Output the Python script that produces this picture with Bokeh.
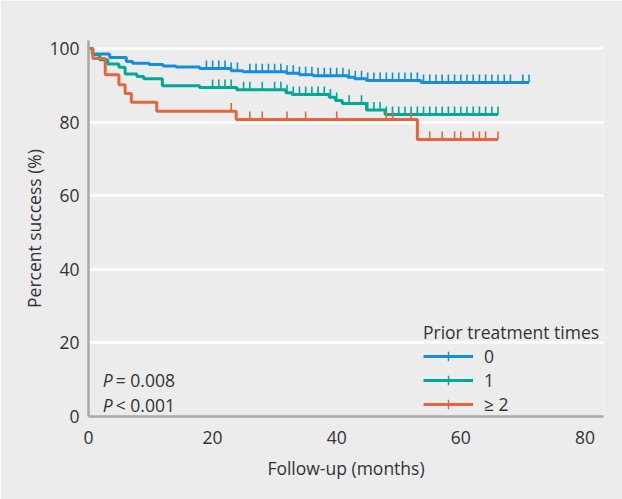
import numpy as np
from bokeh.plotting import figure
from bokeh.models import Range1d, Legend, LegendItem, Label, FixedTicker
from bokeh.embed import file_html
from bokeh.resources import INLINE

# ---- data ----
groups = ["0", "1", "\u2265 2"]

t0 = [0, 0.6, 3.4, 6.1, 7.1, 9.8, 12.0, 14.1, 17.9, 23.0, 24.9, 31.9, 34.0, 36.2, 41.8, 42.9, 44.8, 53.6]
s0 = [100, 98.5, 97.6, 96.5, 96.0, 95.7, 95.3, 95.0, 94.6, 94.0, 93.7, 93.3, 92.9, 92.6, 92.2, 91.8, 91.3, 90.8]
end0 = 71
c0 = [19, 20, 21, 22, 23, 24, 26, 27, 28, 29, 30, 31, 32, 33, 34, 35, 36, 37, 38, 39, 40, 41, 42,
      43, 44, 45, 46, 47, 48, 49, 50, 51, 52, 53, 54, 55, 56, 57, 58, 59, 60, 61, 62, 63, 64, 65,
      66, 67, 68, 70, 71]

t1 = [0, 0.7, 1.8, 3.1, 4.9, 5.9, 7.8, 8.9, 11.9, 17.9, 23.9, 31.8, 32.8, 38.8, 39.8, 40.9, 44.8, 47.8]
s1 = [100, 98.3, 97.0, 95.8, 94.9, 93.1, 92.4, 91.8, 89.9, 89.4, 88.8, 88.0, 87.5, 86.8, 85.9, 85.1, 83.3, 82.1]
end1 = 66
c1 = [20, 21, 22, 23, 25, 26, 28, 30, 31, 32, 33, 34, 35, 36, 37, 38, 39, 40, 42, 44, 45, 46, 47,
      48, 49, 50, 51, 52, 53, 54, 55, 56, 57, 58, 59, 60, 61, 62, 63, 64, 65, 66]

t2 = [0, 0.7, 2.7, 4.9, 5.9, 6.9, 11.0, 23.8, 53.0]
s2 = [100, 97.3, 92.9, 90.2, 87.8, 85.4, 83.0, 80.7, 75.3]
end2 = 66
c2 = [23, 26, 28, 32, 35, 40, 48, 49, 52, 55, 57, 59, 60, 62, 63, 64, 66]

x_ticks = [0, 20, 40, 60, 80]
y_ticks = [0, 20, 40, 60, 80, 100]
p_texts = [("P", "= 0.008"), ("P", "< 0.001")]

colors = ["#168ddb", "#00a896", "#e4663c"]
BG = "#ebeceb"
TXT = "#333333"
FONT = "Open Sans"
FS = "17.5px"


def step_xy(t, s, end):
    xs, ys = [], []
    for i in range(len(t)):
        xs.append(t[i]); ys.append(s[i])
        nxt = t[i + 1] if i + 1 < len(t) else end
        xs.append(nxt); ys.append(s[i])
    return xs, ys


def surv_at(t, s, x):
    idx = np.searchsorted(np.array(t), x, side="right") - 1
    return s[max(idx, 0)]


p = figure(width=622, height=499, output_backend="svg", toolbar_location=None,
           x_range=Range1d(0, 83), y_range=Range1d(0, 102.2),
           min_border_left=88, min_border_right=19, min_border_top=40, min_border_bottom=83)
p.background_fill_color = BG
p.border_fill_color = BG
p.outline_line_color = None

p.xgrid.grid_line_color = None
p.ygrid.grid_line_color = "white"
p.ygrid.grid_line_width = 2.5
p.ygrid.ticker = FixedTicker(ticks=[20, 40, 60, 80, 100])

p.xaxis.ticker = FixedTicker(ticks=x_ticks)
p.yaxis.ticker = FixedTicker(ticks=y_ticks)
for ax in (p.xaxis, p.yaxis):
    ax.axis_line_color = "#a8a8a8"
    ax.axis_line_width = 2.5
    ax.major_tick_line_color = None
    ax.minor_tick_line_color = None
    ax.major_label_text_font = FONT
    ax.major_label_text_font_size = FS
    ax.major_label_text_color = TXT
    ax.axis_label_text_font = FONT
    ax.axis_label_text_font_size = FS
    ax.axis_label_text_color = TXT
    ax.axis_label_text_font_style = "normal"
p.xaxis.axis_label = "Follow-up (months)"
p.yaxis.axis_label = "Percent success (%)"
p.xaxis.major_label_standoff = 8
p.yaxis.major_label_standoff = 3
p.xaxis.axis_label_standoff = 9
p.yaxis.axis_label_standoff = 0

items = []
for (t, s, end, c, col, name) in [(t0, s0, end0, c0, colors[0], groups[0]),
                                  (t1, s1, end1, c1, colors[1], groups[1]),
                                  (t2, s2, end2, c2, colors[2], groups[2])]:
    xs, ys = step_xy(t, s, end)
    r_line = p.line(xs, ys, line_color=col, line_width=3)
    cy = [surv_at(t, s, x) + 1.1 for x in c]
    p.scatter(c, cy, marker="dash", angle=np.pi / 2, size=8,
              line_color=col, line_width=1.6, fill_color=None)
    # legend-only tick glyph (single point placed outside the visible range)
    r_leg = p.scatter(x=[-50], y=[-50], marker="cross", size=9, line_color=col, line_width=1.4)
    items.append(LegendItem(label=name, renderers=[r_line, r_leg]))

legend = Legend(items=items, location=(335, 0), title="Prior treatment times",
                background_fill_alpha=0, border_line_color=None,
                glyph_width=50, glyph_height=24, label_height=24, spacing=0, padding=0, margin=0,
                label_standoff=11, label_text_font=FONT, label_text_font_size=FS,
                label_text_color=TXT, title_text_font=FONT, title_text_font_size=FS,
                title_text_font_style="normal", title_text_color=TXT, title_standoff=0)
p.add_layout(legend)

for i, (pp, rest) in enumerate(p_texts):
    yv = [9.8, 3.0][i]
    p.add_layout(Label(x=2.3, y=yv, text=pp, text_font=FONT, text_font_style="italic",
                       text_font_size=FS, text_color=TXT, text_baseline="middle"))
    p.add_layout(Label(x=2.3, y=yv, x_offset=13, text=rest, text_font=FONT,
                       text_font_size=FS, text_color=TXT, text_baseline="middle"))

open("out.html", "w").write(file_html(p, INLINE))
